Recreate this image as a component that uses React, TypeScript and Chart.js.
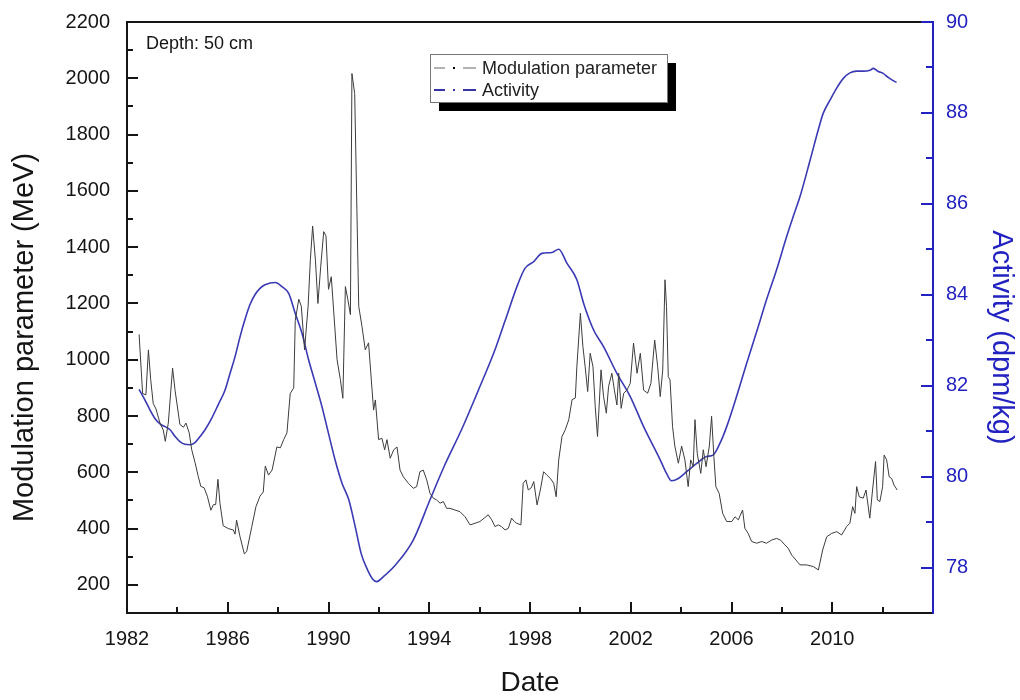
import React, { useEffect, useRef } from 'react';
import { Chart, registerables } from 'chart.js';

Chart.register(...registerables);

// ---------------- data ----------------
const seriesNames = ['Modulation parameter', 'Activity'];
const annotationText = 'Depth: 50 cm';
const xTitle = 'Date';
const yLeftTitle = 'Modulation parameter (MeV)';
const yRightTitle = 'Activity (dpm/kg)';

const modYears = [
  1982.48, 1982.62, 1982.75, 1982.85, 1982.94, 1983.04, 1983.15, 1983.31, 1983.44, 1983.52,
  1983.64, 1983.81, 1983.91, 1984.10, 1984.24, 1984.34, 1984.47, 1984.57, 1984.70, 1984.83,
  1984.93, 1985.06, 1985.19, 1985.33, 1985.43, 1985.52, 1985.61, 1985.69, 1985.82, 1986.02,
  1986.22, 1986.29, 1986.35, 1986.49, 1986.66, 1986.75, 1986.95, 1987.12, 1987.28, 1987.41,
  1987.49, 1987.62, 1987.76, 1987.95, 1988.09, 1988.22, 1988.35, 1988.48, 1988.62, 1988.68,
  1988.82, 1988.92, 1989.05, 1989.19, 1989.28, 1989.37, 1989.48, 1989.58, 1989.69, 1989.81,
  1989.90, 1990.00, 1990.11, 1990.20, 1990.34, 1990.47, 1990.57, 1990.67, 1990.77, 1990.87,
  1990.93, 1991.04, 1991.20, 1991.33, 1991.46, 1991.59, 1991.70, 1991.79, 1991.86, 1991.99,
  1992.12, 1992.23, 1992.32, 1992.45, 1992.59, 1992.72, 1992.84, 1992.97, 1993.17, 1993.37,
  1993.50, 1993.63, 1993.76, 1993.90, 1994.03, 1994.16, 1994.29, 1994.43, 1994.56, 1994.69,
  1994.82, 1995.02, 1995.22, 1995.42, 1995.62, 1995.82, 1996.01, 1996.18, 1996.34, 1996.48,
  1996.61, 1996.74, 1996.87, 1997.01, 1997.14, 1997.27, 1997.38, 1997.47, 1997.64, 1997.73,
  1997.84, 1997.93, 1998.05, 1998.15, 1998.28, 1998.41, 1998.54, 1998.67, 1998.81, 1998.94,
  1999.04, 1999.14, 1999.27, 1999.40, 1999.54, 1999.67, 1999.80, 1999.86, 2000.00, 2000.10,
  2000.19, 2000.29, 2000.39, 2000.50, 2000.59, 2000.68, 2000.82, 2000.92, 2001.03, 2001.12,
  2001.25, 2001.35, 2001.45, 2001.52, 2001.62, 2001.72, 2001.85, 2001.98, 2002.11, 2002.25,
  2002.38, 2002.51, 2002.67, 2002.80, 2002.95, 2003.07, 2003.17, 2003.27, 2003.36, 2003.42,
  2003.49, 2003.56, 2003.66, 2003.75, 2003.89, 2004.02, 2004.15, 2004.28, 2004.38, 2004.48,
  2004.55, 2004.64, 2004.78, 2004.88, 2004.99, 2005.12, 2005.21, 2005.30, 2005.38, 2005.51,
  2005.65, 2005.81, 2006.01, 2006.14, 2006.27, 2006.44, 2006.53, 2006.66, 2006.80, 2007.00,
  2007.20, 2007.39, 2007.59, 2007.79, 2007.95, 2008.12, 2008.25, 2008.39, 2008.72, 2008.98,
  2009.25, 2009.45, 2009.62, 2009.78, 2009.98, 2010.18, 2010.37, 2010.57, 2010.70, 2010.81,
  2010.90, 2010.97, 2011.07, 2011.23, 2011.34, 2011.49, 2011.60, 2011.72, 2011.79, 2011.89,
  2012.00, 2012.06, 2012.16, 2012.26, 2012.36, 2012.45, 2012.58,
];
const modValues = [
  1090, 880, 875, 1035, 930, 845, 825, 775, 750, 710,
  775, 970, 890, 770, 760, 775, 740, 680, 635, 585,
  550, 545, 515, 465, 485, 485, 575, 490, 410, 400,
  395, 380, 430, 370, 310, 318, 405, 478, 515, 530,
  622, 590, 608, 690, 687, 716, 740, 880, 900, 1140,
  1215, 1190, 1035, 1190, 1355, 1475, 1355, 1200, 1330, 1455,
  1440, 1250, 1295, 1180, 1000, 930, 863, 1260, 1213, 1160,
  2017, 1946, 1190, 1118, 1035, 1060, 928, 821, 857, 716,
  721, 680, 716, 650, 680, 690, 608, 584, 561, 543,
  549, 602, 608, 573, 525, 508, 502, 490, 496, 472,
  472, 466, 460, 442, 413, 419, 425, 437, 449, 431,
  407, 413, 407, 395, 401, 437, 425, 419, 413, 561,
  573, 537, 545, 567, 484, 537, 602, 590, 578, 561,
  513, 644, 727, 751, 787, 858, 864, 975, 1165, 1047,
  975, 887, 1023, 975, 833, 727, 964, 869, 810, 905,
  952, 892, 839, 952, 827, 881, 892, 916, 1059, 952,
  1023, 892, 881, 916, 1070, 975, 869, 964, 1284, 1189,
  940, 928, 762, 693, 632, 693, 644, 549, 644, 620,
  787, 667, 596, 680, 620, 693, 799, 656, 549, 525,
  454, 425, 425, 442, 431, 466, 401, 383, 354, 348,
  354, 348, 359, 365, 359, 342, 330, 306, 271, 271,
  265, 253, 324, 371, 383, 389, 377, 407, 419, 478,
  454, 549, 513, 508, 537, 437, 537, 638, 502, 496,
  549, 661, 644, 584, 578, 555, 537,
];

const actYears = [
  1982.48, 1982.71, 1982.91, 1983.11, 1983.31, 1983.51, 1983.71, 1983.91, 1984.10, 1984.30,
  1984.50, 1984.70, 1984.90, 1985.10, 1985.36, 1985.62, 1985.89, 1986.09, 1986.29, 1986.49,
  1986.68, 1986.88, 1987.08, 1987.28, 1987.48, 1987.89, 1988.15, 1988.42, 1988.68, 1988.95,
  1989.21, 1989.48, 1989.74, 1990.00, 1990.27, 1990.54, 1990.80, 1991.06, 1991.30, 1991.55,
  1991.75, 1991.91, 1992.18, 1992.71, 1993.37, 1994.03, 1994.62, 1995.28, 1995.95, 1996.61,
  1997.00, 1997.53, 1997.80, 1998.15, 1998.47, 1998.87, 1999.14, 1999.47, 1999.86, 2000.13,
  2000.53, 2000.92, 2001.45, 2001.98, 2002.51, 2003.17, 2003.42, 2003.62, 2003.89, 2004.22,
  2004.62, 2005.01, 2005.28, 2005.54, 2005.81, 2006.20, 2006.60, 2007.00, 2007.39, 2007.79,
  2008.19, 2008.45, 2008.72, 2009.12, 2009.44, 2009.64, 2009.91, 2010.17, 2010.44, 2010.70,
  2010.97, 2011.23, 2011.50, 2011.63, 2011.83, 2012.02, 2012.22, 2012.42, 2012.55,
];
const actValues = [
  81.92, 81.69, 81.47, 81.28, 81.16, 81.10, 81.03, 80.88, 80.77, 80.71,
  80.70, 80.75, 80.88, 81.03, 81.28, 81.58, 81.90, 82.27, 82.64, 83.08,
  83.45, 83.78, 84.00, 84.14, 84.22, 84.27, 84.18, 84.03, 83.59, 83.15,
  82.57, 82.05, 81.54, 80.95, 80.35, 79.85, 79.50, 78.90, 78.30, 77.95,
  77.75, 77.69, 77.80, 78.09, 78.61, 79.49, 80.26, 81.03, 81.90, 82.79,
  83.41, 84.25, 84.58, 84.73, 84.91, 84.93, 85.00, 84.69, 84.33, 83.81,
  83.22, 82.86, 82.27, 81.76, 81.10, 80.37, 80.07, 79.91, 79.96, 80.11,
  80.29, 80.44, 80.48, 80.73, 81.10, 81.76, 82.49, 83.19, 83.89, 84.55,
  85.28, 85.72, 86.16, 86.96, 87.62, 87.99, 88.28, 88.54, 88.76, 88.88,
  88.92, 88.92, 88.94, 88.98, 88.91, 88.87, 88.78, 88.71, 88.67,
];

const xMajorTicks = [1982, 1986, 1990, 1994, 1998, 2002, 2006, 2010];
const xMinorTicks = [1984, 1988, 1992, 1996, 2000, 2004, 2008, 2012];
const leftMajorTicks = [200, 400, 600, 800, 1000, 1200, 1400, 1600, 1800, 2000, 2200];
const leftMinorTicks = [300, 500, 700, 900, 1100, 1300, 1500, 1700, 1900, 2100];
const rightMajorTicks = [78, 80, 82, 84, 86, 88, 90];
const rightMinorTicks = [79, 81, 83, 85, 87, 89];

// ---------------- styles ----------------
const FONT = "'Liberation Sans', Arial, sans-serif";
const BLACK = '#151515';
const AXIS_BLUE = '#2222c0';
const GRAY_LINE = '#3c3c3c';
const BLUE_LINE = '#3a3ab4';

const decorPlugin = {
  id: 'decor',
  afterDraw(chart: any) {
    const { ctx, chartArea: ca, scales } = chart;
    const xs = scales.x;
    const yl = scales.y;
    const yr = scales.y1;
    ctx.save();

    // frame
    ctx.lineWidth = 2;
    ctx.strokeStyle = BLACK;
    ctx.beginPath();
    ctx.moveTo(ca.right, ca.top);
    ctx.lineTo(ca.left, ca.top);
    ctx.lineTo(ca.left, ca.bottom);
    ctx.lineTo(ca.right, ca.bottom);
    ctx.stroke();
    ctx.strokeStyle = AXIS_BLUE;
    ctx.beginPath();
    ctx.moveTo(ca.right, ca.top - 1);
    ctx.lineTo(ca.right, ca.bottom + 1);
    ctx.stroke();

    // inward ticks
    ctx.lineWidth = 2;
    ctx.strokeStyle = BLACK;
    ctx.beginPath();
    xMajorTicks.forEach((v) => {
      const p = Math.round(xs.getPixelForValue(v));
      ctx.moveTo(p, ca.bottom);
      ctx.lineTo(p, ca.bottom - 11);
    });
    xMinorTicks.forEach((v) => {
      const p = Math.round(xs.getPixelForValue(v));
      ctx.moveTo(p, ca.bottom);
      ctx.lineTo(p, ca.bottom - 6);
    });
    leftMajorTicks.forEach((v) => {
      const p = Math.round(yl.getPixelForValue(v));
      ctx.moveTo(ca.left, p);
      ctx.lineTo(ca.left + 11, p);
    });
    leftMinorTicks.forEach((v) => {
      const p = Math.round(yl.getPixelForValue(v));
      ctx.moveTo(ca.left, p);
      ctx.lineTo(ca.left + 6, p);
    });
    ctx.stroke();

    ctx.strokeStyle = AXIS_BLUE;
    ctx.beginPath();
    rightMajorTicks.forEach((v) => {
      const p = Math.round(yr.getPixelForValue(v));
      ctx.moveTo(ca.right, p);
      ctx.lineTo(ca.right - 12, p);
    });
    rightMinorTicks.forEach((v) => {
      const p = Math.round(yr.getPixelForValue(v));
      ctx.moveTo(ca.right, p);
      ctx.lineTo(ca.right - 7, p);
    });
    ctx.stroke();

    // vertical axis titles
    const titleY = (ca.top + ca.bottom) / 2 + 20;
    ctx.font = `29px ${FONT}`;
    ctx.textAlign = 'center';
    ctx.textBaseline = 'alphabetic';
    ctx.fillStyle = BLACK;
    ctx.save();
    ctx.translate(33, titleY);
    ctx.rotate(-Math.PI / 2);
    ctx.fillText(yLeftTitle, 0, 0);
    ctx.restore();
    ctx.fillStyle = AXIS_BLUE;
    ctx.save();
    ctx.translate(993, titleY);
    ctx.rotate(Math.PI / 2);
    ctx.fillText(yRightTitle, 0, 0);
    ctx.restore();

    // annotation
    ctx.fillStyle = BLACK;
    ctx.font = `18px ${FONT}`;
    ctx.textAlign = 'left';
    ctx.textBaseline = 'alphabetic';
    ctx.fillText(annotationText, ca.left + 19, ca.top + 27);

    // legend with shadow
    const lx = 430, ly = 54, lw = 237, lh = 48;
    ctx.fillStyle = '#000';
    ctx.fillRect(lx + 9, ly + 9, lw, lh);
    ctx.fillStyle = '#fff';
    ctx.fillRect(lx, ly, lw, lh);
    ctx.lineWidth = 1;
    ctx.strokeStyle = '#777';
    ctx.strokeRect(lx + 0.5, ly + 0.5, lw, lh);

    const rows = [
      { name: seriesNames[0], color: '#666', dot: '#000', y: ly + 14 },
      { name: seriesNames[1], color: '#3535a8', dot: '#3535a8', y: ly + 36 },
    ];
    rows.forEach((r) => {
      ctx.strokeStyle = r.color;
      ctx.lineWidth = r.name === seriesNames[1] ? 2 : 1;
      ctx.beginPath();
      ctx.moveTo(lx + 4, r.y);
      ctx.lineTo(lx + 15, r.y);
      ctx.moveTo(lx + 33, r.y);
      ctx.lineTo(lx + 46, r.y);
      ctx.stroke();
      ctx.fillStyle = r.dot;
      ctx.fillRect(lx + 23, r.y - 1, 2, 2);
      ctx.fillStyle = '#222';
      ctx.font = `18px ${FONT}`;
      ctx.textBaseline = 'middle';
      ctx.fillText(r.name, lx + 52, r.y + 1);
    });

    ctx.restore();
  },
};

const fitVertical = (w: number) => (s: any) => {
  s.width = w;
  s.paddingTop = 0;
  s.paddingBottom = 0;
};

export default function App() {
  const canvasRef = useRef<HTMLCanvasElement | null>(null);

  useEffect(() => {
    if (!canvasRef.current) return;
    const modData = modYears.map((x, i) => ({ x, y: modValues[i] }));
    const actData = actYears.map((x, i) => ({ x, y: actValues[i] }));

    const chart = new Chart(canvasRef.current, {
      type: 'line',
      data: {
        datasets: [
          {
            label: seriesNames[0],
            data: modData,
            yAxisID: 'y',
            borderColor: GRAY_LINE,
            borderWidth: 1,
            pointRadius: 0,
            tension: 0,
            fill: false,
          },
          {
            label: seriesNames[1],
            data: actData,
            yAxisID: 'y1',
            borderColor: BLUE_LINE,
            borderWidth: 1.6,
            pointRadius: 0,
            cubicInterpolationMode: 'monotone',
            fill: false,
          },
        ],
      },
      options: {
        animation: false,
        responsive: true,
        maintainAspectRatio: false,
        layout: { padding: { top: 22, left: 0, right: 0, bottom: 0 } },
        plugins: {
          legend: { display: false },
          tooltip: { enabled: false },
        },
        scales: {
          x: {
            type: 'linear',
            min: 1982,
            max: 2014,
            afterBuildTicks: (s: any) => {
              s.ticks = xMajorTicks.map((v) => ({ value: v }));
            },
            afterFit: (s: any) => {
              s.height = 87;
              s.paddingLeft = 0;
              s.paddingRight = 0;
            },
            grid: { display: false, drawTicks: false },
            border: { display: false },
            ticks: {
              autoSkip: false,
              maxRotation: 0,
              padding: 14,
              color: BLACK,
              font: { family: FONT, size: 20 },
              callback: (v: any) => String(v),
            },
            title: {
              display: true,
              text: xTitle,
              color: BLACK,
              font: { family: FONT, size: 28 },
              padding: { top: 0, bottom: 0 },
            },
          },
          y: {
            type: 'linear',
            position: 'left',
            min: 100,
            max: 2200,
            afterBuildTicks: (s: any) => {
              s.ticks = leftMajorTicks.map((v) => ({ value: v }));
            },
            afterFit: fitVertical(127),
            grid: { display: false, drawTicks: false },
            border: { display: false },
            ticks: {
              autoSkip: false,
              padding: 17,
              color: BLACK,
              font: { family: FONT, size: 20 },
              callback: (v: any) => String(v),
            },
            title: { display: false, text: yLeftTitle },
          },
          y1: {
            type: 'linear',
            position: 'right',
            min: 77,
            max: 90,
            afterBuildTicks: (s: any) => {
              s.ticks = rightMajorTicks.map((v) => ({ value: v }));
            },
            afterFit: fitVertical(87),
            grid: { display: false, drawTicks: false },
            border: { display: false },
            ticks: {
              autoSkip: false,
              padding: 13,
              color: AXIS_BLUE,
              font: { family: FONT, size: 20 },
              callback: (v: any) => String(v),
            },
            title: { display: false, text: yRightTitle },
          },
        },
      },
      plugins: [decorPlugin],
    } as any);

    return () => chart.destroy();
  }, []);

  return (
    <div style={{ position: 'absolute', left: 0, top: 0, width: 1020, height: 700, background: '#fff' }}>
      <canvas ref={canvasRef} />
    </div>
  );
}
